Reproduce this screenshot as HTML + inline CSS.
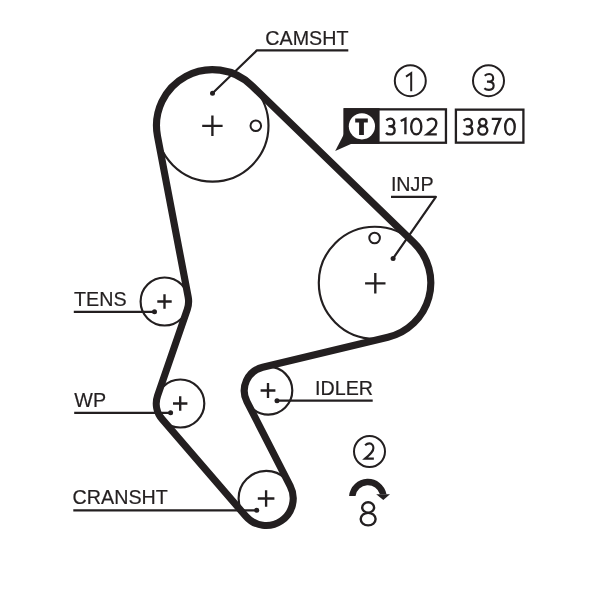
<!DOCTYPE html>
<html><head><meta charset="utf-8"><style>
html,body{margin:0;padding:0;background:#fff;width:600px;height:589px;overflow:hidden}
svg{display:block;will-change:transform}
text{font-family:"Liberation Sans",sans-serif;fill:#231f20;stroke:#231f20;stroke-width:0.2px}
</style></head><body>
<svg width="600" height="589" viewBox="0 0 600 589">
<circle cx="212.5" cy="125.6" r="56" stroke="#231f20" stroke-width="2.15" fill="none"/>
<circle cx="374.8" cy="282.8" r="56" stroke="#231f20" stroke-width="2.15" fill="none"/>
<circle cx="268.3" cy="390.6" r="24" stroke="#231f20" stroke-width="2.15" fill="none"/>
<circle cx="266.2" cy="498.5" r="27.6" stroke="#231f20" stroke-width="2.15" fill="none"/>
<circle cx="180.3" cy="403.5" r="24" stroke="#231f20" stroke-width="2.15" fill="none"/>
<circle cx="164.6" cy="301.5" r="24" stroke="#231f20" stroke-width="2.15" fill="none"/>
<circle cx="255.8" cy="125.7" r="5.3" stroke="#231f20" stroke-width="2.0" fill="none"/>
<circle cx="374.6" cy="238.0" r="5.3" stroke="#231f20" stroke-width="2.0" fill="none"/>
<path d="M202.20 125.80H222.60M212.40 115.60V136.00" stroke="#231f20" stroke-width="2.35" fill="none"/>
<path d="M365.10 283.30H385.50M375.30 273.10V293.50" stroke="#231f20" stroke-width="2.35" fill="none"/>
<path d="M157.30 301.50H171.70M164.50 294.30V308.70" stroke="#231f20" stroke-width="2.35" fill="none"/>
<path d="M173.00 403.50H187.40M180.20 396.30V410.70" stroke="#231f20" stroke-width="2.35" fill="none"/>
<path d="M260.60 390.50H275.40M268.00 383.10V397.90" stroke="#231f20" stroke-width="2.35" fill="none"/>
<path d="M257.80 498.50H274.40M266.10 490.20V506.80" stroke="#231f20" stroke-width="2.35" fill="none"/>
<path d="M157.49 136.09 A56.00 56.00 0 0 1 251.46 85.38 L413.76 242.58 A56.00 56.00 0 0 1 387.86 337.26 L262.70 367.26 A24.00 24.00 0 0 0 246.93 401.53 L290.24 486.21 A27.00 27.00 0 0 1 245.75 516.13 L162.13 419.18 A24.00 24.00 0 0 1 157.60 395.70 L187.30 309.30 A24.00 24.00 0 0 0 188.18 297.00 Z" stroke="#231f20" stroke-width="7.15" fill="none" stroke-linejoin="round"/>
<path d="M212.5 93.3L256.8 50.4H348.3" stroke="#231f20" stroke-width="2.2" fill="none" stroke-linejoin="round"/>
<circle cx="212.5" cy="93.3" r="2.5" fill="#231f20"/>
<path d="M393.1 258.4L435.9 196.9H391.0" stroke="#231f20" stroke-width="2.2" fill="none" stroke-linejoin="round"/>
<circle cx="393.1" cy="258.4" r="2.5" fill="#231f20"/>
<path d="M73.8 311.8H154.5" stroke="#231f20" stroke-width="2.2" fill="none"/>
<circle cx="154.5" cy="311.8" r="2.5" fill="#231f20"/>
<path d="M74.2 412.8H170.6" stroke="#231f20" stroke-width="2.2" fill="none"/>
<circle cx="170.6" cy="412.8" r="2.5" fill="#231f20"/>
<path d="M73.3 510.3H256.7" stroke="#231f20" stroke-width="2.2" fill="none"/>
<circle cx="256.7" cy="510.3" r="2.5" fill="#231f20"/>
<path d="M277.0 400.7H372.7" stroke="#231f20" stroke-width="2.2" fill="none"/>
<circle cx="277.0" cy="400.7" r="2.5" fill="#231f20"/>
<text x="265.3" y="45.2" font-size="19.7" text-anchor="start" >CAMSHT</text>
<text x="390.9" y="190.8" font-size="19.7" text-anchor="start" >INJP</text>
<text x="74.0" y="305.9" font-size="19.7" text-anchor="start" >TENS</text>
<text x="74.3" y="406.6" font-size="19.7" text-anchor="start" >WP</text>
<text x="72.6" y="504.3" font-size="19.7" text-anchor="start" >CRANSHT</text>
<text x="315.0" y="395.0" font-size="19.7" text-anchor="start" >IDLER</text>
<rect x="344.75" y="109.35" width="101.2" height="33.4" fill="#fff" stroke="#231f20" stroke-width="2.3"/>
<rect x="343.6" y="108.2" width="36" height="35.6" fill="#231f20"/>
<path d="M344 134L335.2 151L351.5 143.8Z" fill="#231f20"/>
<circle cx="361.9" cy="126.3" r="13.1" fill="#fff"/>
<path d="M355.2 118.5H367.8V122.6H363.9V135.1H359.1V122.6H355.2Z" fill="#231f20"/>
<rect x="455.9" y="109.65" width="67.5" height="33.0" fill="#fff" stroke="#231f20" stroke-width="2.3"/>
<path d="M 386.32 120.41 C 387.71 119.15 389.09 118.67 390.47 118.67 C 393.07 118.67 394.19 121.04 394.19 122.93 C 394.19 125.29 392.46 126.23 389.61 126.23 H 388.40 M 389.61 126.23 C 393.07 126.23 394.62 128.12 394.62 130.17 C 394.62 132.85 392.89 134.42 390.30 134.42 C 388.57 134.42 386.84 133.79 385.98 132.85" stroke="#231f20" stroke-width="2.35" fill="none" stroke-linecap="butt"/>
<path d="M 400.68 121.02 L 405.43 118.67 V 134.32" stroke="#231f20" stroke-width="2.35" fill="none" stroke-linecap="butt"/>
<path d="M 416.25 118.67 C 413.00 118.67 411.18 122.77 411.18 126.55 C 411.18 130.64 413.00 134.42 416.25 134.42 C 419.50 134.42 421.32 130.64 421.32 126.55 C 421.32 122.77 419.50 118.67 416.25 118.67 Z" stroke="#231f20" stroke-width="2.35" fill="none" stroke-linecap="butt"/>
<path d="M 426.98 120.55 C 428.50 119.30 430.13 118.67 431.75 118.67 C 434.80 118.67 436.32 121.02 436.32 123.37 C 436.32 126.50 434.29 128.69 426.88 134.32 H 436.82" stroke="#231f20" stroke-width="2.35" fill="none" stroke-linecap="butt"/>
<path d="M 463.64 120.61 C 465.09 119.35 466.53 118.88 467.98 118.88 C 470.70 118.88 471.87 121.24 471.87 123.13 C 471.87 125.49 470.06 126.44 467.08 126.44 H 465.81 M 467.08 126.44 C 470.70 126.44 472.32 128.32 472.32 130.37 C 472.32 133.05 470.51 134.62 467.80 134.62 C 465.99 134.62 464.18 134.00 463.28 133.05" stroke="#231f20" stroke-width="2.35" fill="none" stroke-linecap="butt"/>
<path d="M 482.80 118.88 C 484.80 118.88 486.42 120.47 486.42 122.42 C 486.42 124.37 484.80 125.96 482.80 125.96 C 480.80 125.96 479.18 124.37 479.18 122.42 C 479.18 120.47 480.80 118.88 482.80 118.88 Z M 482.80 125.96 C 485.30 125.96 487.32 127.90 487.32 130.29 C 487.32 132.69 485.30 134.62 482.80 134.62 C 480.30 134.62 478.28 132.69 478.28 130.29 C 478.28 127.90 480.30 125.96 482.80 125.96 Z" stroke="#231f20" stroke-width="2.35" fill="none" stroke-linecap="butt"/>
<path d="M 491.78 118.88 H 500.22 C 497.86 123.60 495.58 129.11 494.31 134.62" stroke="#231f20" stroke-width="2.35" fill="none" stroke-linecap="butt"/>
<path d="M 509.95 118.88 C 506.89 118.88 505.18 122.97 505.18 126.75 C 505.18 130.84 506.89 134.62 509.95 134.62 C 513.01 134.62 514.73 130.84 514.73 126.75 C 514.73 122.97 513.01 118.88 509.95 118.88 Z" stroke="#231f20" stroke-width="2.35" fill="none" stroke-linecap="butt"/>
<circle cx="410.3" cy="80.7" r="15.5" stroke="#231f20" stroke-width="2.0" fill="none"/>
<path d="M406 76.6L411.2 73.2V91.2" stroke="#231f20" stroke-width="2.0" fill="none"/>
<circle cx="488.5" cy="80.7" r="15.5" stroke="#231f20" stroke-width="2.0" fill="none"/>
<path d="M 484.72 75.70 C 486.21 74.43 487.70 73.95 489.19 73.95 C 491.98 73.95 493.19 76.34 493.19 78.24 C 493.19 80.63 491.32 81.58 488.26 81.58 H 486.95 M 488.26 81.58 C 491.98 81.58 493.65 83.49 493.65 85.56 C 493.65 88.26 491.79 89.85 489.00 89.85 C 487.14 89.85 485.28 89.21 484.35 88.26" stroke="#231f20" stroke-width="2.1" fill="none" stroke-linecap="butt"/>
<circle cx="369.5" cy="451.5" r="15.5" stroke="#231f20" stroke-width="2.0" fill="none"/>
<path d="M 365.12 445.19 C 366.47 443.96 367.91 443.35 369.35 443.35 C 372.05 443.35 373.40 445.65 373.40 447.94 C 373.40 451.00 371.60 453.14 365.03 458.65 H 373.85" stroke="#231f20" stroke-width="2.1" fill="none" stroke-linecap="butt"/>
<path d="M349.09 495.90A18.9 18.9 0 0 1 386.49 494.30L379.93 494.30A12.5 12.5 0 0 0 355.53 495.90Z" fill="#231f20"/>
<path d="M376.2 494.3H390.0L383.3 500.0Z" fill="#231f20"/>
<path d="M 368.15 502.30 C 371.44 502.30 374.11 504.63 374.11 507.50 C 374.11 510.36 371.44 512.70 368.15 512.70 C 364.86 512.70 362.19 510.36 362.19 507.50 C 362.19 504.63 364.86 502.30 368.15 502.30 Z M 368.15 512.70 C 372.26 512.70 375.60 515.54 375.60 519.05 C 375.60 522.56 372.26 525.40 368.15 525.40 C 364.04 525.40 360.70 522.56 360.70 519.05 C 360.70 515.54 364.04 512.70 368.15 512.70 Z" stroke="#231f20" stroke-width="2.4" fill="none" stroke-linecap="butt"/>
</svg>
</body></html>
